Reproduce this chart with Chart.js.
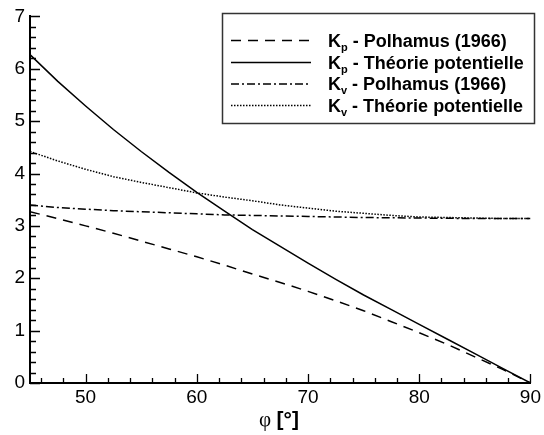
<!DOCTYPE html>
<html>
<head>
<meta charset="utf-8">
<script src="https://cdn.jsdelivr.net/npm/chart.js@4.4.1/dist/chart.umd.min.js"></script>
<style>
  html, body { margin: 0; padding: 0; background: #fff; }
  #wrap { width: 544px; height: 435px; }
</style>
</head>
<body>
<div id="wrap"><canvas id="c" width="544" height="435"></canvas></div>
<script>
const phi = [45, 47.5, 50, 52.5, 55, 57.5, 60, 62.5, 65, 67.5, 70, 72.5, 75, 77.5, 80, 82.5, 85, 87.5, 90];
const kpPolhamus = [3.27, 3.14, 3.00, 2.86, 2.71, 2.56, 2.41, 2.25, 2.08, 1.92, 1.75, 1.57, 1.38, 1.17, 0.96, 0.74, 0.50, 0.26, 0.00];
const kpTheorie  = [6.27, 5.76, 5.29, 4.84, 4.42, 4.02, 3.64, 3.28, 2.93, 2.61, 2.29, 1.98, 1.68, 1.40, 1.12, 0.84, 0.56, 0.28, 0.00];
const kvPolhamus = [3.40, 3.35, 3.32, 3.29, 3.27, 3.25, 3.23, 3.21, 3.20, 3.19, 3.18, 3.17, 3.16, 3.155, 3.15, 3.145, 3.14, 3.14, 3.14];
const kvTheorie  = [4.42, 4.24, 4.08, 3.94, 3.83, 3.73, 3.63, 3.55, 3.48, 3.40, 3.34, 3.28, 3.24, 3.20, 3.17, 3.16, 3.15, 3.14, 3.14];
const xTickLabels = ['50', '60', '70', '80', '90'];
const yTickLabels = ['0', '1', '2', '3', '4', '5', '6', '7'];
const seriesNames = ['Polhamus (1966)', 'Théorie potentielle', 'Polhamus (1966)', 'Théorie potentielle'];
const seriesSubs = ['p', 'p', 'v', 'v'];

const dashes = [[10, 7], [], [8, 3, 2, 3], [1.5, 1.5]];
const seriesData = [kpPolhamus, kpTheorie, kvPolhamus, kvTheorie];

const datasets = seriesData.map((vals, i) => ({
  label: 'K' + seriesSubs[i] + ' - ' + seriesNames[i],
  data: vals.map((v, j) => ({ x: phi[j], y: v })),
  borderColor: '#000',
  borderWidth: 1.5,
  borderDash: dashes[i],
  pointRadius: 0,
  tension: 0,
  fill: false
}));

const sansFont = "'Liberation Sans', Arial, sans-serif";

const innerTicks = {
  id: 'innerTicks',
  afterDatasetsDraw(chart) {
    const ctx = chart.ctx, xs = chart.scales.x, ys = chart.scales.y;
    const area = chart.chartArea;
    ctx.save();
    ctx.strokeStyle = '#000';
    ctx.lineWidth = 1.3;
    ctx.beginPath();
    for (let k = 0; k <= 35; k++) {
      const v = k / 5;
      const py = Math.round(ys.getPixelForValue(v)) + 0.5;
      const len = (k % 5 === 0) ? 10 : 6;
      ctx.moveTo(area.left, py);
      ctx.lineTo(area.left + len, py);
    }
    for (let v = 46; v <= 90; v += 2) {
      const px = Math.round(xs.getPixelForValue(v)) + 0.5;
      const len = (v % 10 === 0) ? 9 : 5;
      ctx.moveTo(px, area.bottom);
      ctx.lineTo(px, area.bottom - len);
    }
    ctx.stroke();
    ctx.restore();
  }
};

const customLegend = {
  id: 'customLegend',
  afterDraw(chart) {
    const ctx = chart.ctx;
    const bx = 222.5, by = 13.5, bw = 312, bh = 110;
    ctx.save();
    ctx.fillStyle = '#fff';
    ctx.fillRect(bx, by, bw, bh);
    ctx.strokeStyle = '#333';
    ctx.lineWidth = 1.5;
    ctx.strokeRect(bx, by, bw, bh);
    const rows = [40, 62, 83.5, 105];
    chart.data.datasets.forEach((ds, i) => {
      const y = rows[i];
      ctx.beginPath();
      ctx.setLineDash(ds.borderDash);
      ctx.strokeStyle = '#000';
      ctx.lineWidth = 1.5;
      ctx.moveTo(231, y + 0.5);
      ctx.lineTo(311, y + 0.5);
      ctx.stroke();
      ctx.setLineDash([]);
      ctx.fillStyle = '#000';
      ctx.textBaseline = 'alphabetic';
      ctx.textAlign = 'left';
      ctx.font = 'bold 18px ' + sansFont;
      let x = 328;
      const base = y + 6.5;
      ctx.fillText('K', x, base);
      x += ctx.measureText('K').width;
      ctx.font = 'bold 11px ' + sansFont;
      ctx.fillText(seriesSubs[i], x, base + 4);
      x += ctx.measureText(seriesSubs[i]).width;
      ctx.font = 'bold 18px ' + sansFont;
      ctx.fillText(' - ' + seriesNames[i], x, base);
    });
    ctx.restore();
  }
};

const axisTitle = {
  id: 'axisTitle',
  afterDraw(chart) {
    const ctx = chart.ctx;
    ctx.save();
    ctx.fillStyle = '#000';
    ctx.textBaseline = 'alphabetic';
    ctx.textAlign = 'left';
    const f1 = "21px 'Liberation Serif', 'DejaVu Serif', serif";
    const f2 = 'bold 21px ' + sansFont;
    ctx.font = f1;
    const t1 = 'φ ';
    const w1 = ctx.measureText(t1).width;
    ctx.font = f2;
    const t2 = '[°]';
    const w2 = ctx.measureText(t2).width;
    let x = 279 - (w1 + w2) / 2;
    const base = 426;
    ctx.font = f1;
    ctx.fillText(t1, x, base);
    ctx.font = f2;
    ctx.fillText(t2, x + w1, base);
    ctx.restore();
  }
};

new Chart(document.getElementById('c'), {
  type: 'line',
  data: { datasets },
  options: {
    responsive: false,
    animation: false,
    layout: { padding: { top: 13, right: 11, left: 0, bottom: 0 } },
    plugins: { legend: { display: false }, tooltip: { enabled: false } },
    scales: {
      x: {
        type: 'linear',
        min: 45, max: 90,
        grid: { display: false, drawTicks: false },
        border: { display: true, color: '#000', width: 2 },
        afterBuildTicks(scale) { scale.ticks = xTickLabels.map(t => ({ value: Number(t) })); },
        afterFit(scale) { scale.height = 52; },
        ticks: {
          color: '#000',
          padding: 3,
          maxRotation: 0,
          autoSkip: false,
          font: { family: sansFont, size: 19 },
          callback: (v) => xTickLabels.includes(String(v)) ? String(v) : ''
        }
      },
      y: {
        type: 'linear',
        min: 0, max: 7,
        grid: { display: false, drawTicks: false },
        border: { display: true, color: '#000', width: 2 },
        afterBuildTicks(scale) { scale.ticks = yTickLabels.map(t => ({ value: Number(t) })); },
        afterFit(scale) { scale.width = 30; },
        ticks: {
          color: '#000',
          padding: 5,
          autoSkip: false,
          font: { family: sansFont, size: 19 },
          callback: (v) => yTickLabels.includes(String(v)) ? String(v) : ''
        }
      }
    }
  },
  plugins: [innerTicks, customLegend, axisTitle]
});
</script>
</body>
</html>
